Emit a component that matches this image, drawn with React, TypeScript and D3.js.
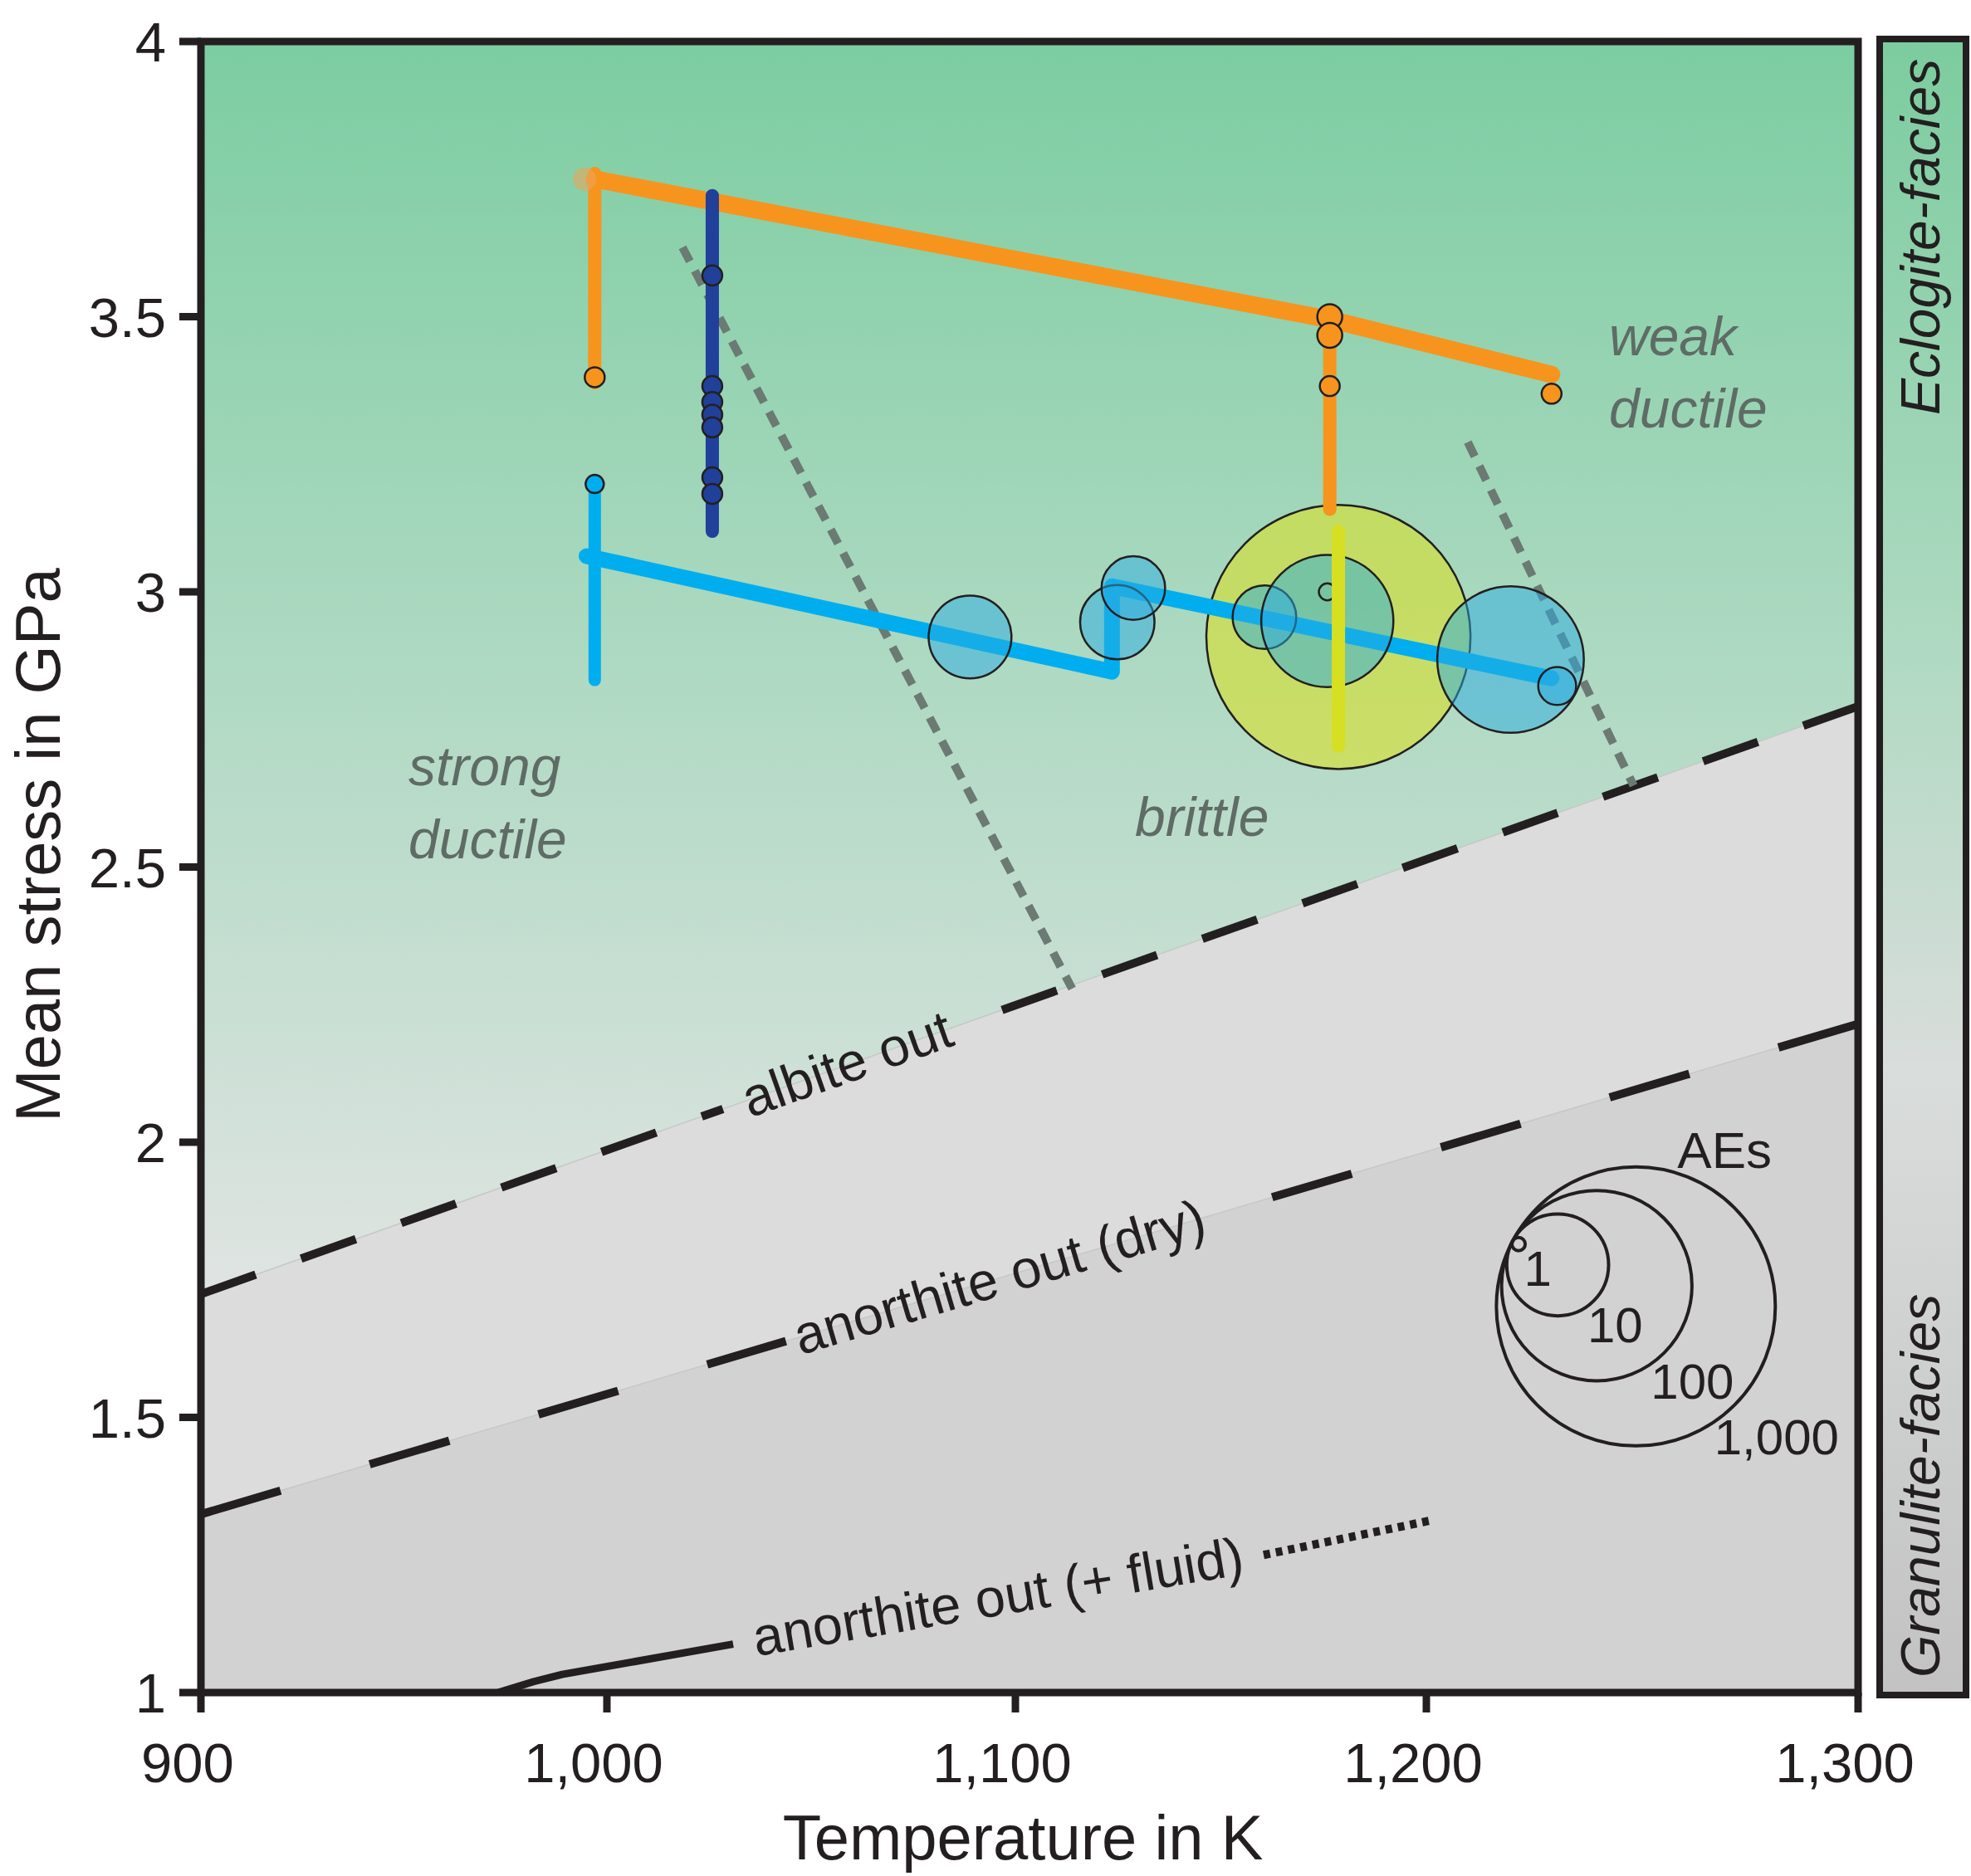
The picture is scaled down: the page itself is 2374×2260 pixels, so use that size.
import React from "react";
import * as d3 from "d3";

type Pt = [number, number];

// ---------- data ----------
const xTicks = [900, 1000, 1100, 1200, 1300];
const xTickLabels = ["900", "1,000", "1,100", "1,200", "1,300"];
const yTicks = [1, 1.5, 2, 2.5, 3, 3.5, 4];
const yTickLabels = ["1", "1.5", "2", "2.5", "3", "3.5", "4"];

// phase boundaries (T in K, mean stress in GPa)
const albiteOut: Pt[] = [[900, 1.724], [1300, 2.792]];
const anorthiteOutDry: Pt[] = [[900, 1.324], [1300, 2.215]];
const anorthiteOutFluid: Pt[] = [[973.2, 1.0], [982, 1.02], [989, 1.033], [1030.9, 1.088]];
const anorthiteOutFluidDotted: Pt[] = [[1160.4, 1.25], [1200.6, 1.312]];

// deformation regime boundaries
const brittleBoundaryLeft: Pt[] = [[1018.5, 3.626], [1113.8, 2.279]];
const brittleBoundaryRight: Pt[] = [[1209.6, 3.272], [1248, 2.648]];

// experiment paths
const orangePaths: Pt[][] = [
  [[997, 3.76], [997, 3.38]],
  [[997, 3.75], [1176.5, 3.495], [1229, 3.395]],
  [[1176.5, 3.49], [1176.5, 3.15]],
];
const darkBluePath: Pt[] = [[1025.8, 3.72], [1025.8, 3.11]];
const lightBluePaths: Pt[][] = [
  [[997, 3.2], [997, 2.84]],
  [[995, 3.065], [1123.5, 2.855], [1123.5, 3.01], [1229, 2.843]],
];
const yellowPath: Pt[] = [[1178.6, 3.11], [1178.6, 2.72]];

// small event markers
const orangeMarkers: Pt[] = [[997, 3.39], [1176.5, 3.5], [1176.5, 3.466], [1176.5, 3.374], [1229, 3.36]];
const orangeStart: Pt[] = [[994.5, 3.75]];
const darkBlueMarkerT = 1025.8;
const darkBlueMarkerP = [3.575, 3.374, 3.345, 3.322, 3.299, 3.208, 3.178];
const lightBlueMarkers: Pt[] = [[997, 3.196]];

// acoustic emission bubbles: [T, GPa, AEs]
const blueBubbles: [number, number, number][] = [
  [1088.9, 2.918, 6.1],
  [1124.8, 2.945, 4.9],
  [1128.7, 3.007, 3.7],
  [1160.6, 2.954, 3.7],
  [1175.9, 2.947, 22],
  [1219.5, 2.877, 32],
  [1230.3, 2.829, 1.9],
];
const openBubbles: [number, number, number][] = [[1175.9, 3.0, 1.1]];
const yellowBubbles: [number, number, number][] = [[1178.6, 2.918, 680]];

const legendAE = [1, 10, 100, 1000];
const legendLabels = ["1", "10", "100", "1,000"];

// ---------- layout ----------
const W = 2374;
const H = 2260;
const L = 242, R = 2238, T = 50, B = 2039;
const FONT = "'Liberation Sans', Arial, Helvetica, sans-serif";
const INK = "#231f20";

const x = d3.scaleLinear().domain([900, 1000, 1100, 1200, 1300]).range([L, 731, 1223, 1718, R]);
const y = d3.scaleLinear().domain([1, 4]).range([B, T]);
const rAE = d3.scaleLog().domain([1, 1000]).range([8, 168]);

const line = d3.line<Pt>().x((d) => x(d[0])).y((d) => y(d[1]));

function px(p: Pt): [number, number] {
  return [x(p[0]), y(p[1])];
}
function lerp(a: [number, number], b: [number, number], t: number): [number, number] {
  return [a[0] + (b[0] - a[0]) * t, a[1] + (b[1] - a[1]) * t];
}
function seg(a: [number, number], b: [number, number]) {
  return `M${a[0]},${a[1]}L${b[0]},${b[1]}`;
}
function angle(a: [number, number], b: [number, number]) {
  return (Math.atan2(b[1] - a[1], b[0] - a[0]) * 180) / Math.PI;
}

function LabeledDashedLine({ data, gap, text, center, dash }: { data: Pt[]; gap: [number, number]; text: string; center: number; dash: string }) {
  const a = px(data[0]);
  const b = px(data[1]);
  const g0 = lerp(a, b, gap[0]);
  const g1 = lerp(a, b, gap[1]);
  const c = lerp(a, b, center);
  const ang = angle(a, b);
  return (
    <g>
      <path d={seg(a, b)} stroke="#c4c8c6" strokeWidth={1.5} fill="none" />
      <path d={seg(a, g0)} stroke={INK} strokeWidth={10} strokeDasharray={dash} fill="none" />
      <path d={seg(b, g1)} stroke={INK} strokeWidth={10} strokeDasharray={dash} fill="none" />
      <text
        transform={`translate(${c[0]},${c[1]}) rotate(${ang})`}
        y={21}
        textAnchor="middle"
        fontFamily={FONT}
        fontSize={65}
        fill={INK}
      >
        {text}
      </text>
    </g>
  );
}

export default function App() {
  const albA = px(albiteOut[0]);
  const albB = px(albiteOut[1]);
  const anA = px(anorthiteOutDry[0]);
  const anB = px(anorthiteOutDry[1]);

  const greenRegion = `M${L},${T}L${R},${T}L${albB[0]},${albB[1]}L${albA[0]},${albA[1]}Z`;
  const midRegion = `M${albA[0]},${albA[1]}L${albB[0]},${albB[1]}L${anB[0]},${anB[1]}L${anA[0]},${anA[1]}Z`;
  const lowRegion = `M${anA[0]},${anA[1]}L${anB[0]},${anB[1]}L${R},${B}L${L},${B}Z`;

  // fluid label sits between solid end and dotted start
  const fEnd = px(anorthiteOutFluid[anorthiteOutFluid.length - 1]);
  const fDot = px(anorthiteOutFluidDotted[0]);
  const fMid = lerp(fEnd, fDot, 0.5);
  const fAng = angle(fEnd, fDot);

  // legend anchor (tangent point of nested circles)
  const legP: [number, number] = [1822, 1495];
  const legDir = (28 * Math.PI) / 180;
  const legCircles = legendAE.map((v, i) => {
    const r = rAE(v);
    return { r, cx: legP[0] + r * Math.cos(legDir), cy: legP[1] + r * Math.sin(legDir), label: legendLabels[i] };
  });
  const big = legCircles[legCircles.length - 1];

  const regimeStyle = { fontFamily: FONT, fontSize: 66, fontStyle: "italic" as const, fill: "#5f6c66" };

  return (
    <svg width={W} height={H} style={{ position: "absolute", left: 0, top: 0, background: "#fff" }}>
      <defs>
        <linearGradient id="plotGrad" gradientUnits="userSpaceOnUse" x1={0} y1={T} x2={0} y2={albA[1]}>
          <stop offset="0" stopColor="#7ccda1" />
          <stop offset="0.45" stopColor="#a9d8bf" />
          <stop offset="1" stopColor="#e0e4e2" />
        </linearGradient>
        <linearGradient id="barGrad" x1="0" y1="0" x2="0" y2="1">
          <stop offset="0" stopColor="#7ccc9f" />
          <stop offset="0.35" stopColor="#acd9c0" />
          <stop offset="0.62" stopColor="#d9dddb" />
          <stop offset="1" stopColor="#c2c2c2" />
        </linearGradient>
        <clipPath id="plotClip">
          <rect x={L} y={T} width={R - L} height={B - T} />
        </clipPath>
      </defs>

      <g clipPath="url(#plotClip)">
        <path d={greenRegion} fill="url(#plotGrad)" />
        <path d={midRegion} fill="#dcdcdc" />
        <path d={lowRegion} fill="#d3d2d3" />

        <LabeledDashedLine data={albiteOut} gap={[0.315, 0.47]} center={0.39} text="albite out" dash="70 58" />
        <LabeledDashedLine data={anorthiteOutDry} gap={[0.353, 0.622]} center={0.482} text="anorthite out (dry)" dash="100 112" />

        <path d={line(anorthiteOutFluid) || ""} stroke={INK} strokeWidth={9} strokeLinejoin="round" fill="none" />
        <path d={line(anorthiteOutFluidDotted) || ""} stroke={INK} strokeWidth={10} strokeDasharray="8 7" fill="none" />
        <text
          transform={`translate(${fMid[0]},${fMid[1]}) rotate(${fAng})`}
          y={19}
          textAnchor="middle"
          fontFamily={FONT}
          fontSize={65}
          fill={INK}
        >
          anorthite out (+ fluid)
        </text>

        {[brittleBoundaryLeft, brittleBoundaryRight].map((d, i) => (
          <path key={i} d={line(d) || ""} stroke="#6b7a72" strokeWidth={10} strokeDasharray="19 13" fill="none" />
        ))}

        {/* yellow AE bubble */}
        {yellowBubbles.map((d, i) => (
          <circle key={i} cx={x(d[0])} cy={y(d[1])} r={rAE(d[2])} fill="rgba(216,224,40,0.6)" stroke={INK} strokeWidth={2.5} />
        ))}

        {/* paths */}
        {lightBluePaths.map((d, i) => (
          <path key={i} d={line(d) || ""} stroke="#00aeef" strokeWidth={i === 0 ? 15 : 19} strokeLinecap="round" strokeLinejoin="round" fill="none" />
        ))}
        {orangePaths.map((d, i) => (
          <path key={i} d={line(d) || ""} stroke="#f7941d" strokeWidth={i === 1 ? 21 : 16} strokeLinecap="round" strokeLinejoin="round" fill="none" />
        ))}
        <path d={line(darkBluePath) || ""} stroke="#21409a" strokeWidth={16} strokeLinecap="round" fill="none" />

        {/* blue AE bubbles */}
        {blueBubbles.map((d, i) => (
          <circle key={i} cx={x(d[0])} cy={y(d[1])} r={rAE(d[2])} fill="rgba(41,171,226,0.5)" stroke={INK} strokeWidth={2.5} />
        ))}
        {openBubbles.map((d, i) => (
          <circle key={i} cx={x(d[0])} cy={y(d[1])} r={rAE(d[2])} fill="none" stroke={INK} strokeWidth={2.5} />
        ))}

        <path d={line(yellowPath) || ""} stroke="#d7df23" strokeWidth={16} strokeLinecap="round" fill="none" />

        {/* markers */}
        {orangeStart.map((d, i) => (
          <circle key={i} cx={x(d[0])} cy={y(d[1])} r={14} fill="#e9a55a" opacity={0.6} />
        ))}
        {orangeMarkers.map((d, i) => (
          <circle key={i} cx={x(d[0])} cy={y(d[1])} r={i === 1 || i === 2 ? 15 : 12} fill="#f7941d" stroke={INK} strokeWidth={2.5} />
        ))}
        {darkBlueMarkerP.map((p, i) => (
          <circle key={i} cx={x(darkBlueMarkerT)} cy={y(p)} r={12} fill="#21409a" stroke={INK} strokeWidth={2.5} />
        ))}
        {lightBlueMarkers.map((d, i) => (
          <circle key={i} cx={x(d[0])} cy={y(d[1])} r={11} fill="#00aeef" stroke={INK} strokeWidth={2.5} />
        ))}

        {/* regime labels */}
        <text x={492} y={946} {...regimeStyle}>strong</text>
        <text x={492} y={1034} {...regimeStyle}>ductile</text>
        <text x={1367} y={1007} {...regimeStyle}>brittle</text>
        <text x={1938} y={428} {...regimeStyle}>weak</text>
        <text x={1938} y={515} {...regimeStyle}>ductile</text>

        {/* AE legend */}
        {legCircles.map((c, i) => (
          <g key={i}>
            <circle cx={c.cx} cy={c.cy} r={c.r} fill="none" stroke={INK} strokeWidth={4} />
            <text x={c.cx + 2 + 0.55 * c.r} y={c.cy + 44 + 0.8 * c.r} fontFamily={FONT} fontSize={60} fill={INK}>
              {c.label}
            </text>
          </g>
        ))}
        <text x={big.cx + 50} y={big.cy - big.r + 1} fontFamily={FONT} fontSize={62} fill={INK}>
          AEs
        </text>
      </g>

      {/* frame */}
      <rect x={L} y={T} width={R - L} height={B - T} fill="none" stroke={INK} strokeWidth={9} />

      {/* y axis */}
      {yTicks.map((t, i) => (
        <g key={t}>
          <line x1={L - 26} x2={L} y1={y(t)} y2={y(t)} stroke={INK} strokeWidth={9} />
          <text x={200} y={y(t)} dy="0.36em" textAnchor="end" fontFamily={FONT} fontSize={67} fill={INK}>
            {yTickLabels[i]}
          </text>
        </g>
      ))}
      {/* x axis */}
      {xTicks.map((t, i) => (
        <g key={t}>
          <line x1={x(t)} x2={x(t)} y1={B} y2={B + 24} stroke={INK} strokeWidth={9} />
          <text x={x(t) - 16} y={2147} textAnchor="middle" fontFamily={FONT} fontSize={67} fill={INK}>
            {xTickLabels[i]}
          </text>
        </g>
      ))}

      <text x={1232} y={2240} textAnchor="middle" fontFamily={FONT} fontSize={76} fill={INK}>
        Temperature in K
      </text>
      <text transform={`translate(72,1018) rotate(-90)`} textAnchor="middle" fontFamily={FONT} fontSize={76} fill={INK}>
        Mean stress in GPa
      </text>

      {/* facies bar */}
      <rect x={2264} y={47} width={104} height={1995} fill="url(#barGrad)" stroke={INK} strokeWidth={8} />
      <text transform={`translate(2336,500) rotate(-90)`} fontFamily={FONT} fontSize={66} fontStyle="italic" fill={INK}>
        Eclogite-facies
      </text>
      <text transform={`translate(2336,2021) rotate(-90)`} fontFamily={FONT} fontSize={66} fontStyle="italic" fill={INK}>
        Granulite-facies
      </text>
    </svg>
  );
}
